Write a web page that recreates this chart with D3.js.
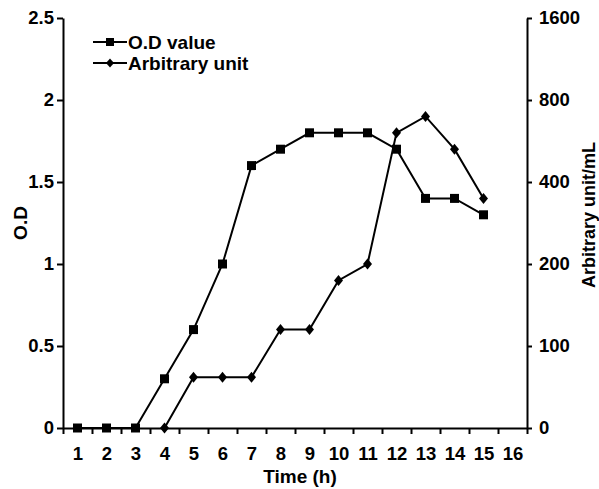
<!DOCTYPE html>
<html>
<head>
<meta charset="utf-8">
<script src="https://cdn.jsdelivr.net/npm/d3@7"></script>
<style>
  body { margin: 0; background: #fff; }
  svg text { font-family: "Liberation Sans", Arial, sans-serif; font-weight: bold; fill: #000; }
  .axis path, .axis line { stroke: #000; stroke-width: 2px; }
</style>
</head>
<body>
<svg id="plot" width="599" height="489"></svg>
<script>
// hours on the x axis
const hours = d3.range(1, 17)
// O.D value, one per hour 1..15
const odHours = [1, 2, 3, 4, 5, 6, 7, 8, 9, 10, 11, 12, 13, 14, 15]
const odValues = [0, 0, 0, 0.3, 0.6, 1.0, 1.6, 1.7, 1.8, 1.8, 1.8, 1.7, 1.4, 1.4, 1.3]
// arbitrary unit/mL, starts at hour 4
const auHours = [4, 5, 6, 7, 8, 9, 10, 11, 12, 13, 14, 15]
const auValues = [0, 62, 62, 62, 120, 120, 180, 200, 640, 720, 560, 360]
// tick labels
const odTicks = [0, 0.5, 1, 1.5, 2, 2.5]
const auTicks = [0, 100, 200, 400, 800, 1600]

const svg = d3.select("#plot")
const plotLeft = 63, plotRight = 527, plotTop = 18, plotBottom = 428

// x: each hour sits in the middle of its slot, ticks mark slot edges
const xScale = d3.scaleLinear()
    .domain([0.5, 16.5])
    .range([plotLeft, plotRight])
const yScale = d3.scaleLinear()
    .domain([0, 2.5])
    .range([plotBottom, plotTop])
// right axis is segmented: equal spacing for 0,100,200,400,800,1600
const y2Scale = d3.scaleLinear()
    .domain(auTicks)
    .range(auTicks.map((d, i) => plotBottom - i * (plotBottom - plotTop) / (auTicks.length - 1)))

// x axis: tick marks on the slot edges
svg.append("g")
    .attr("class", "axis")
    .attr("transform", "translate(0," + plotBottom + ")")
    .call(d3.axisBottom(xScale)
        .tickValues(d3.range(0.5, 17, 1))
        .tickSize(6)
        .tickSizeOuter(0)
        .tickFormat(""))
// x labels in the slot centres
svg.append("g")
    .attr("class", "labels")
    .attr("transform", "translate(0," + plotBottom + ")")
    .call(d3.axisBottom(xScale)
        .tickValues(hours)
        .tickSize(0)
        .tickPadding(19)
        .tickFormat(d3.format("d")))
    .call(g => g.select(".domain").remove())

svg.append("g")
    .attr("class", "axis")
    .attr("transform", "translate(" + plotLeft + ",0)")
    .call(d3.axisLeft(yScale)
        .tickValues(odTicks)
        .tickSize(6)
        .tickSizeOuter(0)
        .tickPadding(3)
        .tickFormat(d3.format("")))

svg.append("g")
    .attr("class", "axis")
    .attr("transform", "translate(" + plotRight + ",0)")
    .call(d3.axisRight(y2Scale)
        .tickValues(auTicks)
        .tickSize(5)
        .tickSizeOuter(0)
        .tickPadding(7)
        .tickFormat(d3.format("d")))

svg.selectAll("g").attr("font-family", null).attr("font-size", null)
svg.selectAll("g text").style("font-size", "18.5px")

// axis titles
svg.append("text")
    .attr("x", (plotLeft + plotRight) / 2 + 5)
    .attr("y", 483)
    .style("text-anchor", "middle")
    .style("font-size", "19px")
    .text("Time (h)")
svg.append("text")
    .attr("transform", "translate(27," + ((plotTop + plotBottom) / 2) + ") rotate(-90)")
    .style("text-anchor", "middle")
    .style("font-size", "19px")
    .text("O.D")
svg.append("text")
    .attr("transform", "translate(595,215) rotate(-90)")
    .style("text-anchor", "middle")
    .style("font-size", "18px")
    .text("Arbitrary unit/mL")

const odData = odHours.map((h, i) => ({x: h, y: odValues[i]}))
const auData = auHours.map((h, i) => ({x: h, y: auValues[i]}))

const odLine = d3.line()
    .x(d => xScale(d.x))
    .y(d => yScale(d.y))
const auLine = d3.line()
    .x(d => xScale(d.x))
    .y(d => y2Scale(d.y))

svg.append("path")
    .datum(odData)
    .attr("d", odLine)
    .attr("fill", "none")
    .attr("stroke", "#000")
    .attr("stroke-width", 2)
svg.append("path")
    .datum(auData)
    .attr("d", auLine)
    .attr("fill", "none")
    .attr("stroke", "#000")
    .attr("stroke-width", 2)

const square = d3.symbol().type(d3.symbolSquare).size(81)
const diamond = "M0,-5.5L4.5,0L0,5.5L-4.5,0Z"

svg.selectAll(".sq")
    .data(odData)
    .enter()
    .append("path")
    .attr("class", "sq")
    .attr("transform", d => "translate(" + xScale(d.x) + "," + yScale(d.y) + ")")
    .attr("d", square)
    .attr("fill", "#000")
svg.selectAll(".dm")
    .data(auData)
    .enter()
    .append("path")
    .attr("class", "dm")
    .attr("transform", d => "translate(" + xScale(d.x) + "," + y2Scale(d.y) + ")")
    .attr("d", diamond)
    .attr("fill", "#000")

// legend
const legend = [
    {name: "O.D value", y: 42, mark: d3.symbol().type(d3.symbolSquare).size(64)()},
    {name: "Arbitrary unit", y: 63, mark: "M0,-4.5L4,0L0,4.5L-4,0Z"}
]
const lg = svg.selectAll(".legend")
    .data(legend)
    .enter()
    .append("g")
    .attr("class", "legend")
    .attr("transform", d => "translate(0," + d.y + ")")
lg.append("line")
    .attr("x1", 93).attr("x2", 127)
    .attr("stroke", "#000")
    .attr("stroke-width", 2)
lg.append("path")
    .attr("transform", "translate(110,0)")
    .attr("d", d => d.mark)
    .attr("fill", "#000")
lg.append("text")
    .attr("x", 128)
    .attr("dy", "0.35em")
    .style("font-size", "19px")
    .text(d => d.name)
</script>
</body>
</html>
